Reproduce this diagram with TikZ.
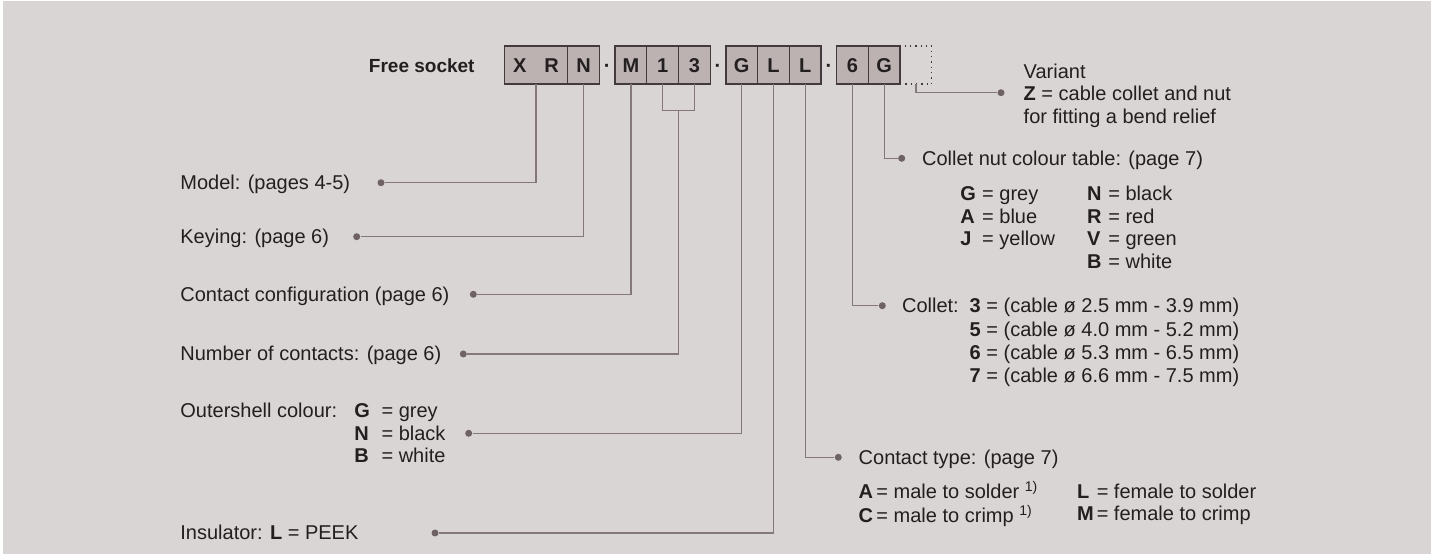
\documentclass[tikz,border=0pt]{standalone}
\usepackage{fontspec}
\setmainfont{Liberation Sans}
\usetikzlibrary{positioning}

\definecolor{panel}{RGB}{217,213,212}
\definecolor{cellfill}{RGB}{188,178,178}
\definecolor{cellline}{RGB}{66,58,60}
\definecolor{leadc}{RGB}{132,120,122}
\definecolor{dotc}{RGB}{110,98,100}
\definecolor{ink}{RGB}{35,31,32}

\tikzstyle{cell}=[rectangle,draw=cellline,fill=cellfill,line width=0.65pt,minimum width=15.85pt,minimum height=19pt,inner sep=0pt,outer sep=0pt,text height=7.2pt,text depth=0pt,font=\bfseries]
\tikzstyle{sepdot}=[minimum width=7.85pt,inner sep=0pt,outer sep=0pt,text height=7.2pt,text depth=0pt,font=\bfseries]
\tikzstyle{txt}=[anchor=base west,inner sep=0pt,yshift=-3.5pt]
\tikzstyle{ldot}=[circle,fill=dotc,inner sep=0pt,minimum size=3.5pt]
\tikzstyle{lead}=[draw=leadc,line width=0.6pt]

\begin{document}
\begin{tikzpicture}[x=0.5pt,y=-0.5pt,text=ink]
  \fill[white] (0,0) rectangle (1431,555);
  \fill[panel] (3,1) rectangle (1431,554);

  % code boxes
  \node[anchor=base east,inner sep=0pt,yshift=-3.3pt,font=\fontsize{9.5}{11}\selectfont\bfseries] (lfree) at (475,66) {Free socket};
  \node[cell,minimum width=31.7pt] (cxr) at (536,65) {X\hspace{9pt}R};
  \node[cell] (cn) [right=0pt of cxr] {N};
  \node[sepdot] (d1) [right=0pt of cn] {·};
  \node[cell] (cm) [right=0pt of d1] {M};
  \node[cell] (c1) [right=0pt of cm] {1};
  \node[cell] (c3) [right=0pt of c1] {3};
  \node[sepdot] (d2) [right=0pt of c3] {·};
  \node[cell] (cg) [right=0pt of d2] {G};
  \node[cell] (cl) [right=0pt of cg] {L};
  \node[cell] (cll) [right=0pt of cl] {L};
  \node[sepdot] (d3) [right=0pt of cll] {·};
  \node[cell] (c6) [right=0pt of d3] {6};
  \node[cell,fill=none,dotted] (cvar) [right=0pt of c6,xshift=15.85pt] {};
  \node[cell] (cgg) [right=0pt of c6] {G};

  % left side
  \node[txt] (lmodel) at (180,182.7) {Model: (pages 4-5)};
  \node[ldot] (dmodel) at (381,182.7) {};
  \node[txt] (lkey) at (180,236.7) {Keying: (page 6)};
  \node[ldot] (dkey) at (356.7,236.7) {};
  \node[txt] (lconf) at (180,294.3) {Contact configuration (page 6)};
  \node[ldot] (dconf) at (473.3,294.3) {};
  \node[txt] (lnum) at (180,354) {Number of contacts: (page 6)};
  \node[ldot] (dnum) at (463.3,354) {};
  \node[txt] (lshell) at (180,411) {Outershell colour:};
  \node[txt] (tshell) at (354,411) {\fontsize{10}{11.15}\selectfont
    \begin{tabular}[t]{@{}l@{\hspace{5.8pt}}l@{}}
      \textbf{G} & = grey\\ \textbf{N} & = black\\ \textbf{B} & = white
    \end{tabular}};
  \node[ldot] (dshell) at (468.7,433.3) {};
  \node[txt] (lins) at (180,533) {Insulator: \textbf{L} = PEEK};
  \node[ldot] (dins) at (435,533) {};

  % right side
  \node[txt] (lvar) at (1023.3,71.7) {\fontsize{10}{11.1}\selectfont
    \begin{tabular}[t]{@{}l@{}}
      Variant\\ \textbf{Z} = cable collet and nut\\ for fitting a bend relief
    \end{tabular}};
  \node[ldot] (dvar) at (1001,92.7) {};
  \node[txt] (lnut) at (921.7,158.3) {Collet nut colour table: (page 7)};
  \node[ldot] (dnut) at (901.7,158.3) {};
  \node[txt] (tnuta) at (960,193.3) {\fontsize{10}{11.4}\selectfont
    \begin{tabular}[t]{@{}l@{\hspace{3.1pt}}l@{}}
      \textbf{G} & = grey\\ \textbf{A} & = blue\\ \textbf{J} & = yellow
    \end{tabular}};
  \node[txt] (tnutb) at (1086.7,193.3) {\fontsize{10}{11.4}\selectfont
    \begin{tabular}[t]{@{}l@{\hspace{3.4pt}}l@{}}
      \textbf{N} & = black\\ \textbf{R} & = red\\ \textbf{V} & = green\\ \textbf{B} & = white
    \end{tabular}};
  \node[txt] (lcol) at (901.7,305.7) {Collet:};
  \node[ldot] (dcol) at (882.3,305.7) {};
  \node[txt] (tcol) at (969.3,305.7) {\fontsize{10}{11.7}\selectfont
    \begin{tabular}[t]{@{}l@{}}
      \textbf{3} = (cable ø 2.5 mm - 3.9 mm)\\
      \textbf{5} = (cable ø 4.0 mm - 5.2 mm)\\
      \textbf{6} = (cable ø 5.3 mm - 6.5 mm)\\
      \textbf{7} = (cable ø 6.6 mm - 7.5 mm)
    \end{tabular}};
  \node[txt] (ltype) at (858.3,457.3) {Contact type: (page 7)};
  \node[ldot] (dtype) at (838.3,457.3) {};
  \node[txt] (ttypea) at (858.3,491.7) {\fontsize{10}{10.8}\selectfont
    \begin{tabular}[t]{@{}l@{}}
      \textbf{A}\,= male to solder \textsuperscript{1)}\\
      \textbf{C}\,= male to crimp \textsuperscript{1)}
    \end{tabular}};
  \node[txt] (ttypeb) at (1076.7,491.7) {\fontsize{10}{10.8}\selectfont
    \begin{tabular}[t]{@{}l@{\hspace{1.5pt}}l@{}}
      \textbf{L} & = female to solder\\ \textbf{M} & = female to crimp
    \end{tabular}};

  % leaders
  \coordinate (bk) at (678.2,110.7);
  \draw[lead] (cxr.south) |- (dmodel);
  \draw[lead] (cn.south) |- (dkey);
  \draw[lead] (cm.south) |- (dconf);
  \draw[lead] (c1.south) |- (bk) -| (c3.south);
  \draw[lead] (bk) |- (dnum);
  \draw[lead] (cg.south) |- (dshell);
  \draw[lead] (cl.south) |- (dins);
  \draw[lead] (cll.south) |- (dtype);
  \draw[lead] (c6.south) |- (dcol);
  \draw[lead] (cgg.south) |- (dnut);
  \draw[lead] (cvar.south) |- (dvar);
\end{tikzpicture}
\end{document}
